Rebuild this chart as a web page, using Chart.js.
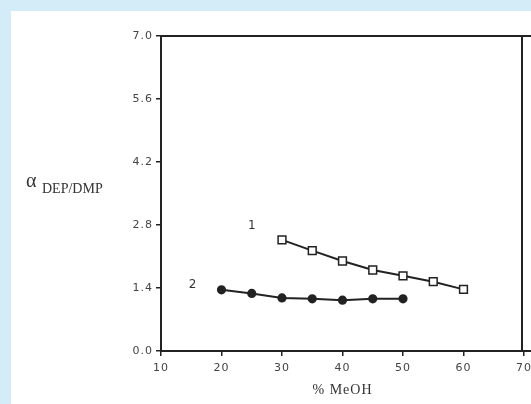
<!DOCTYPE html>
<html>
<head>
<meta charset="utf-8">
<script src="https://cdn.jsdelivr.net/npm/chart.js@4"></script>
<style>
  html, body { margin: 0; padding: 0; background: #d4ecf8; }
  .panel { position: absolute; left: 11px; top: 11px; width: 520px; height: 393px; background: #fff; }
  canvas { position: absolute; left: 0; top: 0; }
</style>
</head>
<body>
<div class="panel"></div>
<canvas id="grafico" width="531" height="404"></canvas>
<script>
// % MeOH
const meoh1 = [30, 35, 40, 45, 50, 55, 60];
const alpha1 = [2.47, 2.23, 2.0, 1.8, 1.67, 1.54, 1.37];
const meoh2 = [20, 25, 30, 35, 40, 45, 50];
const alpha2 = [1.36, 1.28, 1.18, 1.16, 1.13, 1.16, 1.16];
const xTicks = [10, 20, 30, 40, 50, 60, 70];
const yTicks = [0, 1.4, 2.8, 4.2, 5.6, 7.0];
const curveLabels = [
  { text: '1', x: 25, y: 2.78 },
  { text: '2', x: 15.2, y: 1.47 }
];

const ink = '#222';
const tickFont = { family: 'DejaVu Sans', size: 11 };

const extras = {
  id: 'extras',
  beforeDraw(chart) {
    chart.ctx.letterSpacing = '1px';
  },
  afterDraw(chart) {
    const { ctx, chartArea: a, scales } = chart;
    ctx.save();
    ctx.letterSpacing = '0px';
    // box
    ctx.strokeStyle = ink;
    ctx.lineWidth = 2;
    ctx.beginPath();
    ctx.moveTo(a.left, a.top);
    ctx.lineTo(531, a.top);
    ctx.moveTo(522, a.top);
    ctx.lineTo(522, a.bottom);
    ctx.moveTo(a.left, a.bottom);
    ctx.lineTo(531, a.bottom);
    ctx.stroke();
    // curve numbers
    ctx.fillStyle = '#333';
    ctx.font = '12px "DejaVu Sans"';
    ctx.textAlign = 'center';
    ctx.textBaseline = 'middle';
    curveLabels.forEach(l => {
      ctx.fillText(l.text, scales.x.getPixelForValue(l.x), scales.y.getPixelForValue(l.y));
    });
    // y title
    ctx.textAlign = 'left';
    ctx.textBaseline = 'alphabetic';
    ctx.font = '20px "Liberation Serif"';
    ctx.fillText('\u03b1', 26, 187);
    ctx.font = '14px "Liberation Serif"';
    ctx.fillText('DEP/DMP', 42, 193);
    ctx.restore();
  }
};

new Chart(document.getElementById('grafico'), {
  type: 'scatter',
  data: {
    datasets: [
      {
        label: '1',
        data: meoh1.map((x, i) => ({ x, y: alpha1[i] })),
        showLine: true,
        borderColor: ink,
        borderWidth: 2,
        pointStyle: 'rect',
        pointRadius: 5.5,
        pointBackgroundColor: '#fff',
        pointBorderColor: ink,
        pointBorderWidth: 1.5
      },
      {
        label: '2',
        data: meoh2.map((x, i) => ({ x, y: alpha2[i] })),
        showLine: true,
        borderColor: ink,
        borderWidth: 2,
        pointStyle: 'circle',
        pointRadius: 3.6,
        pointBackgroundColor: ink,
        pointBorderColor: ink
      }
    ]
  },
  options: {
    responsive: false,
    animation: false,
    layout: { padding: { left: 0, top: 36, right: 5, bottom: 0 } },
    plugins: { legend: { display: false }, tooltip: { enabled: false } },
    scales: {
      x: {
        type: 'linear',
        min: 10,
        max: 70,
        afterFit: s => { s.height = 53; s.paddingRight = 0; s.paddingLeft = 0; },
        afterBuildTicks: s => { s.ticks = xTicks.map(v => ({ value: v })); },
        ticks: { color: '#444', font: tickFont, padding: 6, maxRotation: 0, callback: v => String(v) },
        grid: { drawOnChartArea: false, drawTicks: true, tickLength: 5, color: ink, lineWidth: 1.5 },
        border: { display: true, color: ink, width: 2 },
        title: {
          display: true,
          text: '% MeOH',
          color: '#333',
          font: { family: 'Liberation Serif', size: 14 },
          padding: { top: 0, bottom: 5 }
        }
      },
      y: {
        min: 0,
        max: 7,
        afterFit: s => { s.width = 161; s.paddingTop = 0; s.paddingBottom = 0; },
        afterBuildTicks: s => { s.ticks = yTicks.map(v => ({ value: v })); },
        ticks: { color: '#444', font: tickFont, padding: 3, callback: v => v.toFixed(1) },
        grid: { drawOnChartArea: false, drawTicks: true, tickLength: 5, color: ink, lineWidth: 1.5 },
        border: { display: true, color: ink, width: 2 }
      }
    }
  },
  plugins: [extras]
});
</script>
</body>
</html>
